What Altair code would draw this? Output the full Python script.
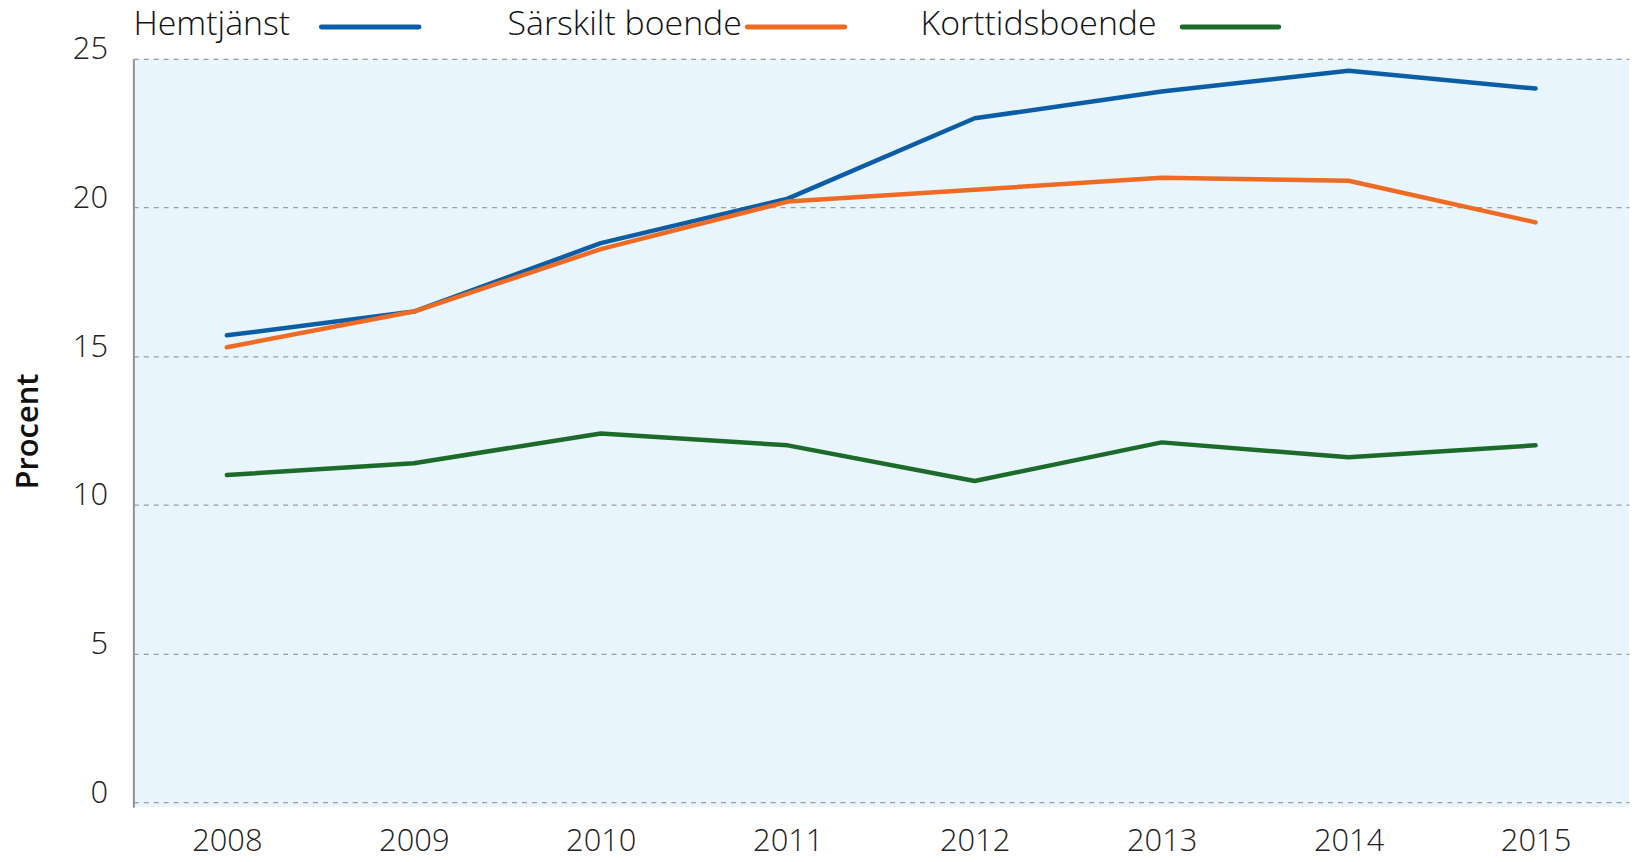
import altair as alt
import pandas as pd

years = ["2008", "2009", "2010", "2011", "2012", "2013", "2014", "2015"]
hemtjanst = [15.7, 16.5, 18.8, 20.3, 23.0, 23.9, 24.6, 24.0]
sarskilt = [15.3, 16.5, 18.6, 20.2, 20.6, 21.0, 20.9, 19.5]
korttids = [11.0, 11.4, 12.4, 12.0, 10.8, 12.1, 11.6, 12.0]
series_names = ["Hemtjänst", "Särskilt boende", "Korttidsboende"]
colors = ["#0b5ea6", "#ef6b24", "#1c6b2a"]
y_ticks = [0, 5, 10, 15, 20, 25]

rows = []
for name, vals in zip(series_names, [hemtjanst, sarskilt, korttids]):
    for yr, v in zip(years, vals):
        rows.append({"year": yr, "value": v, "serie": name})
df = pd.DataFrame(rows)

FONT = "Open Sans"

lines = alt.Chart(df).mark_line(strokeWidth=4.5, strokeCap="round", strokeJoin="round").encode(
    x=alt.X("year:O", scale=alt.Scale(type="point", padding=0.5),
            axis=alt.Axis(domain=False, ticks=False, tickSize=0, grid=False, labelAngle=0,
                          labelPadding=44, labelBaseline="alphabetic", labelFont=FONT,
                          labelFontWeight=300, labelFontSize=31, labelColor="#222222", title=None)),
    y=alt.Y("value:Q", scale=alt.Scale(domain=[-0.17, 25], nice=False, zero=False),
            axis=alt.Axis(values=y_ticks, grid=True, gridDash=[5, 5], gridColor="#9d9d9d",
                          gridWidth=1.2, domain=True, domainColor="#909090", domainWidth=2,
                          ticks=False, tickSize=0, labelPadding=26, labelBaseline="alphabetic",
                          labelFont=FONT, labelFontWeight=300, labelFontSize=31,
                          labelColor="#222222", labelFlush=False, labelOverlap=False,
                          title="Procent", titleFont=FONT, titleFontWeight=600,
                          titleFontSize=31, titleColor="#111111", titleAngle=270,
                          titleAlign="center", titleBaseline="alphabetic",
                          titleX=-96, titleY=374)),
    color=alt.Color("serie:N", scale=alt.Scale(domain=series_names, range=colors), legend=None),
)

# custom legend: label followed by a line swatch
legend_text_x = [0, 376, 791]
legend_line_x = [(189, 287), (617, 715), (1054, 1151)]
layers = [lines]
for i, name in enumerate(series_names):
    d = pd.DataFrame({"serie": [name]})
    layers.append(
        alt.Chart(d).mark_text(align="left", baseline="alphabetic", font=FONT, fontWeight=300,
                               fontSize=34, color="#111111").encode(
            text="serie:N", x=alt.value(legend_text_x[i]), y=alt.value(-24))
    )
    layers.append(
        alt.Chart(d).mark_rule(strokeWidth=5, strokeCap="round", color=colors[i]).encode(
            x=alt.value(legend_line_x[i][0]), x2=alt.value(legend_line_x[i][1]), y=alt.value(-32))
    )

chart = alt.layer(*layers).properties(
    width=1503, height=752,
    autosize=alt.AutoSizeParams(type="none"),
    padding={"left": 126, "top": 49, "right": 3, "bottom": 53},
).configure_view(fill="#e8f5fd", stroke=None)

chart.save("out.html", embed_options={"renderer": "svg", "actions": False})
